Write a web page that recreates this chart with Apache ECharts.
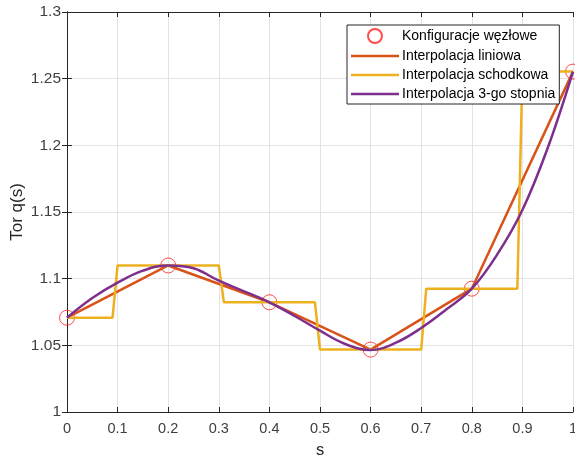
<!DOCTYPE html>
<html><head><meta charset="utf-8">
<script src="https://cdn.jsdelivr.net/npm/echarts@6/dist/echarts.min.js"></script>
<style>html,body{margin:0;padding:0;background:#fff}#c{width:575px;height:458px}</style>
</head><body><div id="c"></div>
<script>
// Node configuration
const nodeS = [0, 0.2, 0.4, 0.6, 0.8, 1.0];
const nodeQ = [1.0707, 1.1099, 1.0823, 1.0468, 1.0925, 1.2553];
// Stepped (nearest) interpolation
const stepS = [0, 0.09, 0.10, 0.30, 0.31, 0.49, 0.50, 0.70, 0.71, 0.89, 0.90, 1.0];
const stepQ = [1.0707, 1.0707, 1.1099, 1.1099, 1.0823, 1.0823, 1.0468, 1.0468, 1.0925, 1.0925, 1.2553, 1.2553];
// Cubic curve
const cubS = [0, 0.05, 0.1, 0.15, 0.2, 0.25, 0.3, 0.35, 0.4, 0.45, 0.5, 0.55, 0.6, 0.65, 0.7, 0.75, 0.8, 0.85, 0.9, 0.95, 1.0];
const cubQ = [1.0707, 1.0855, 1.097, 1.106, 1.1099, 1.1078, 1.0985, 1.0905, 1.0823, 1.072, 1.061, 1.051, 1.0465, 1.052, 1.063, 1.077, 1.0925, 1.118, 1.1515, 1.198, 1.2553];
const xTicks = {min: 0, max: 1, step: 0.1};
const yTicks = {min: 1, max: 1.3, step: 0.05};
const names = ['Konfiguracje węzłowe', 'Interpolacja liniowa', 'Interpolacja schodkowa', 'Interpolacja 3-go stopnia'];

const zip = (a, b) => a.map((v, i) => [v, b[i]]);
const FONT = 'Liberation Sans';
const AX = '#262626';
const LBL = '#404040';
const chart = echarts.init(document.getElementById('c'), null, {renderer: 'canvas'});
const fmtY = v => String(+v.toFixed(2));
const fmtX = v => String(+v.toFixed(1));
const lineIcon = 'path://M0,0H48V2.6H0Z';
chart.setOption({
  animation: false,
  textStyle: {fontFamily: FONT},
  grid: {left: 67, right: 2, top: 12, bottom: 46, containLabel: false, outerBoundsMode: 'none'},
  xAxis: [{
    type: 'value', min: xTicks.min, max: xTicks.max, interval: xTicks.step, position: 'bottom',
    name: 's', nameLocation: 'middle', nameGap: 30, nameMoveOverlap: false,
    nameTextStyle: {fontFamily: FONT, fontSize: 16.5, color: AX},
    axisLine: {lineStyle: {color: AX, width: 1}},
    axisTick: {inside: true, length: 5, lineStyle: {color: AX}},
    axisLabel: {fontFamily: FONT, fontSize: 14.5, color: LBL, margin: 9, formatter: fmtX, showMaxLabel: true},
    splitLine: {show: true, lineStyle: {color: '#e3e3e3', width: 1}}
  }, {
    type: 'value', min: xTicks.min, max: xTicks.max, interval: xTicks.step, position: 'top',
    axisLine: {lineStyle: {color: AX, width: 1}},
    axisTick: {inside: true, length: 5, lineStyle: {color: AX}},
    axisLabel: {show: false}, splitLine: {show: false}
  }],
  yAxis: [{
    type: 'value', min: yTicks.min, max: yTicks.max, interval: yTicks.step, position: 'left',
    name: 'Tor q(s)', nameLocation: 'middle', nameGap: 41, nameMoveOverlap: false,
    nameTextStyle: {fontFamily: FONT, fontSize: 17, color: AX},
    axisLine: {show: true, lineStyle: {color: AX, width: 1}},
    axisTick: {show: true, inside: true, length: 5, lineStyle: {color: AX}},
    axisLabel: {fontFamily: FONT, fontSize: 15.5, color: LBL, margin: 6, formatter: fmtY},
    splitLine: {show: true, lineStyle: {color: '#e3e3e3', width: 1}}
  }, {
    type: 'value', min: yTicks.min, max: yTicks.max, interval: yTicks.step, position: 'right',
    axisLine: {show: true, lineStyle: {color: AX, width: 1}},
    axisTick: {show: true, inside: true, length: 5, lineStyle: {color: AX}},
    axisLabel: {show: false}, splitLine: {show: false}
  }],
  legend: {
    orient: 'vertical', left: 347, top: 25,
    backgroundColor: '#fff', borderColor: '#262626', borderWidth: 1, borderRadius: 0,
    padding: [3, 4, 3, 4], itemWidth: 48, itemHeight: 14, itemGap: 5,
    textStyle: {fontFamily: FONT, fontSize: 14, color: '#000', padding: [0, 0, 0, -2]},
    data: [
      {name: names[0]},
      {name: names[1], icon: lineIcon},
      {name: names[2], icon: lineIcon},
      {name: names[3], icon: lineIcon}
    ]
  },
  series: [{
    name: names[0], type: 'scatter', data: zip(nodeS, nodeQ), z: 1,
    symbol: 'circle', symbolSize: 15,
    itemStyle: {color: 'rgba(0,0,0,0)', borderColor: '#ff2020', borderWidth: 1}
  }, {
    name: names[1], type: 'line', data: zip(nodeS, nodeQ), z: 2,
    symbol: 'none', lineStyle: {color: '#D95319', width: 2.5}, itemStyle: {color: '#D95319'}
  }, {
    name: names[2], type: 'line', data: zip(stepS, stepQ), z: 3,
    symbol: 'none', lineStyle: {color: '#EDB120', width: 2.5}, itemStyle: {color: '#EDB120'}
  }, {
    name: names[3], type: 'line', data: zip(cubS, cubQ), z: 4, smooth: 0.4,
    symbol: 'none', lineStyle: {color: '#7E2F8E', width: 2.5}, itemStyle: {color: '#7E2F8E'}
  }]
});
</script></body></html>
